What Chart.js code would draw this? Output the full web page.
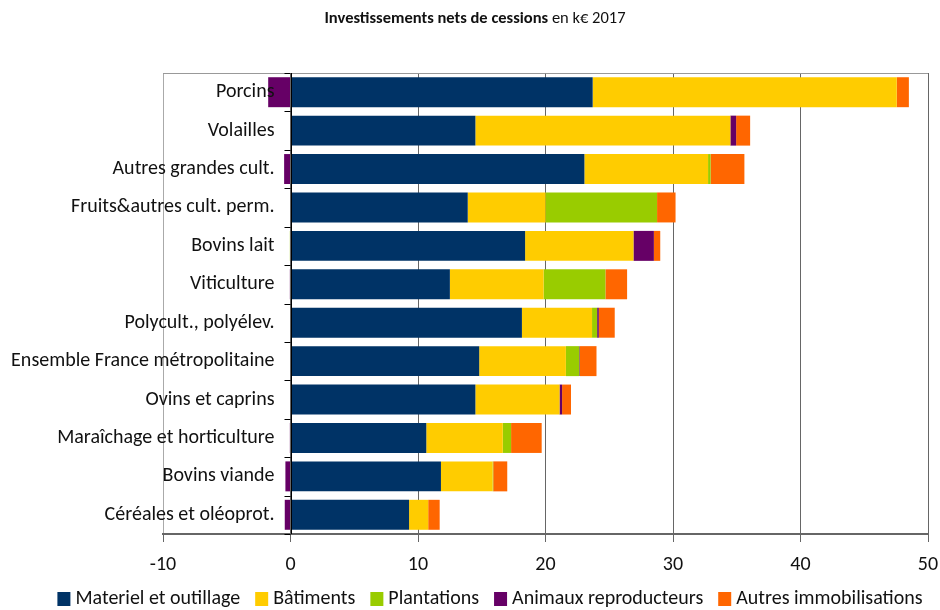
<!DOCTYPE html>
<html lang="fr">
<head>
  <meta charset="UTF-8">
  <title>Investissements nets de cessions</title>
  <script src="https://cdn.jsdelivr.net/npm/chart.js"></script>
  <style>
    body {
      margin: 0;
      background: #ffffff;
    }
    #chart {
      display: block;
    }
  </style>
</head>
<body>
  <canvas id="chart" width="940" height="610"></canvas>

  <script>
    const categories = [
      'Porcins', 'Volailles', 'Autres grandes cult.', 'Fruits&autres cult. perm.',
      'Bovins lait', 'Viticulture', 'Polycult., polyélev.', 'Ensemble France métropolitaine',
      'Ovins et caprins', 'Maraîchage et horticulture', 'Bovins viande', 'Céréales et oléoprot.'
    ];
    const materiel    = [23.7, 14.5, 23.05, 13.9, 18.4, 12.5, 18.15, 14.8, 14.5, 10.65, 11.8, 9.3];
    const batiments   = [23.85, 20.0, 9.7, 6.1, 8.5, 7.35, 5.5, 6.8, 6.6, 6.0, 4.05, 1.5];
    const plantations = [0, 0, 0.2, 8.75, -0.05, 4.85, 0.4, 1.05, 0, 0.65, 0.05, 0];
    const animaux     = [-1.75, 0.45, -0.5, 0, 1.6, -0.05, 0.13, 0.05, 0.2, -0.05, -0.4, -0.45];
    const autres      = [0.95, 1.1, 2.65, 1.45, 0.5, 1.7, 1.25, 1.3, 0.7, 2.4, 1.1, 0.9];
    const xTicks = [-10, 0, 10, 20, 30, 40, 50];

    const FONT = "Carlito, Lato, sans-serif";
    const TEXT = '#111';
    Chart.defaults.font.family = FONT;
    Chart.defaults.color = TEXT;

    // title with a bold part, category labels next to the zero axis, axis line on top, legend
    const decor = {
      id: 'decor',
      afterDraw(chart) {
        const ctx = chart.ctx;
        const area = chart.chartArea;
        const x = chart.scales.x;
        const y = chart.scales.y;
        const x0 = x.getPixelForValue(0);

        ctx.save();
        // top border
        ctx.strokeStyle = '#999';
        ctx.lineWidth = 1;
        ctx.beginPath();
        ctx.moveTo(area.left, area.top + 0.5);
        ctx.lineTo(area.right, area.top + 0.5);
        ctx.stroke();

        // zero axis with tick marks
        ctx.strokeStyle = '#000';
        ctx.beginPath();
        ctx.moveTo(Math.round(x0) + 0.5, area.top);
        ctx.lineTo(Math.round(x0) + 0.5, area.bottom);
        const step = (area.bottom - area.top) / categories.length;
        for (let i = 0; i <= categories.length; i++) {
          const yy = Math.round(area.top + i * step) + 0.5;
          ctx.moveTo(x0 - 6, yy);
          ctx.lineTo(x0, yy);
        }
        ctx.stroke();

        // category labels
        ctx.fillStyle = TEXT;
        ctx.font = '20px ' + FONT;
        ctx.textAlign = 'right';
        ctx.textBaseline = 'middle';
        categories.forEach((c, i) => {
          ctx.fillText(c, x0 - 16, y.getPixelForValue(i));
        });

        // legend
        ctx.textAlign = 'left';
        const sets = chart.data.datasets;
        const widths = sets.map(d => 13 + 5 + ctx.measureText(d.label).width);
        const gap = 15;
        const total = widths.reduce((a, b) => a + b, 0) + gap * (sets.length - 1);
        let lx = 490 - total / 2;
        const ly = 599;
        sets.forEach((d, i) => {
          ctx.fillStyle = d.backgroundColor;
          ctx.fillRect(lx, ly - 7, 13, 14);
          ctx.fillStyle = TEXT;
          ctx.fillText(d.label, lx + 18, ly);
          lx += widths[i] + gap;
        });

        // title
        const bold = 'Investissements nets de cessions';
        const rest = ' en k€ 2017';
        ctx.font = 'bold 16.5px ' + FONT;
        const wb = ctx.measureText(bold).width;
        ctx.font = '16.5px ' + FONT;
        const wr = ctx.measureText(rest).width;
        const start = 475 - (wb + wr) / 2;
        ctx.font = 'bold 16.5px ' + FONT;
        ctx.fillText(bold, start, 19);
        ctx.font = '16.5px ' + FONT;
        ctx.fillText(rest, start + wb, 19);
        ctx.restore();
      }
    };

    const ds = (label, data, color) => ({
      label: label,
      data: data,
      backgroundColor: color,
      borderWidth: 0,
      barPercentage: 0.78,
      categoryPercentage: 1
    });

    new Chart(document.getElementById('chart'), {
      type: 'bar',
      data: {
        labels: categories,
        datasets: [
          ds('Materiel et outillage', materiel, '#003366'),
          ds('Bâtiments', batiments, '#FFCC00'),
          ds('Plantations', plantations, '#99CC00'),
          ds('Animaux reproducteurs', animaux, '#660066'),
          ds('Autres immobilisations', autres, '#FF6600')
        ]
      },
      options: {
        indexAxis: 'y',
        responsive: false,
        animation: false,
        layout: {
          padding: { left: 0, right: 0, top: 73, bottom: 22 }
        },
        scales: {
          x: {
            stacked: true,
            min: -10,
            max: 50,
            afterBuildTicks: (scale) => {
              scale.ticks = xTicks.map(v => ({ value: v }));
            },
            afterFit: (scale) => {
              scale.paddingRight = 12;
            },
            ticks: {
              font: { size: 20, lineHeight: 1 },
              color: TEXT,
              padding: 13
            },
            grid: {
              color: (c) => (c.tick && c.tick.value === -10) ? '#aaa' : '#666',
              tickColor: '#666',
              tickLength: 8
            },
            border: { color: '#666', width: 2 }
          },
          y: {
            stacked: true,
            ticks: { display: false },
            grid: { display: false },
            border: { display: false },
            afterFit: (scale) => { scale.width = 163; }
          }
        },
        plugins: {
          legend: { display: false },
          tooltip: { enabled: false }
        }
      },
      plugins: [decor]
    });
  </script>
</body>
</html>
